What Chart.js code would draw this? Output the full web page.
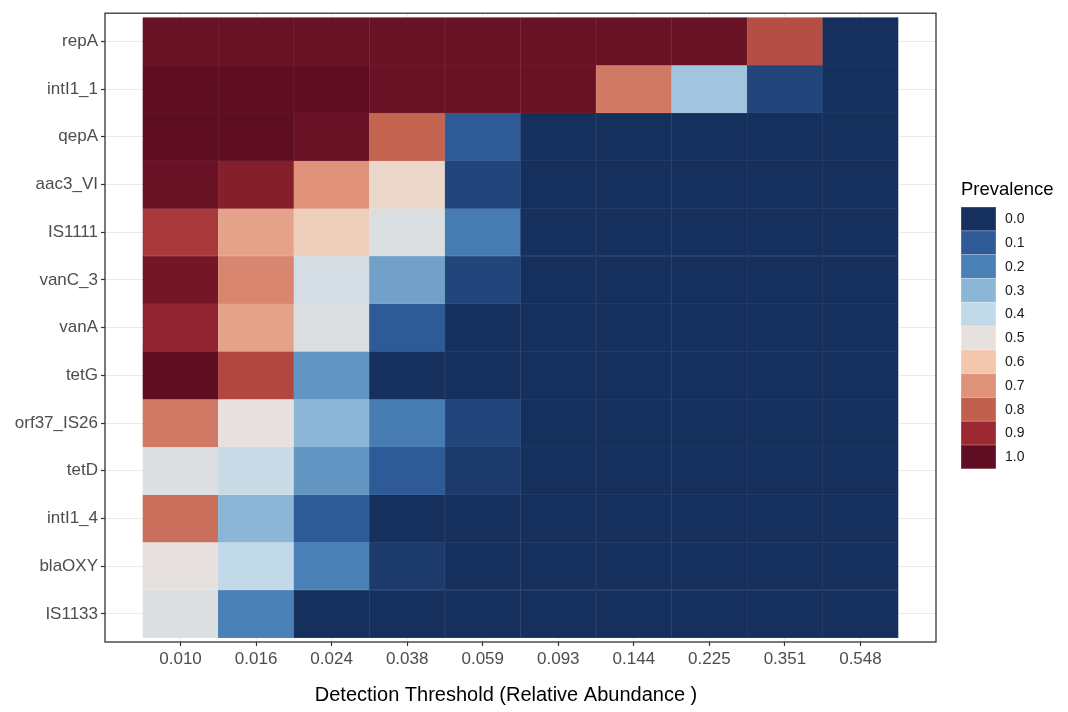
<!DOCTYPE html>
<html>
<head>
<meta charset="utf-8">
<script src="https://cdn.jsdelivr.net/npm/chart.js@4.4.1/dist/chart.umd.min.js"></script>
<style>
  html, body { margin: 0; padding: 0; background: #ffffff; }
  canvas { display: block; }
</style>
</head>
<body>
<canvas id="heat" width="1068" height="712"></canvas>
<script>
// Detection thresholds (relative abundance), one column each
const thresholds = ['0.010', '0.016', '0.024', '0.038', '0.059', '0.093', '0.144', '0.225', '0.351', '0.548'];

// Genes, top to bottom
const genes = ['repA', 'intI1_1', 'qepA', 'aac3_VI', 'IS1111', 'vanC_3', 'vanA', 'tetG', 'orf37_IS26', 'tetD', 'intI1_4', 'blaOXY', 'IS1133'];

// Prevalence of each gene at every threshold
const repA      = [0.98, 0.98, 0.98, 0.98, 0.98, 0.98, 0.98, 0.98, 0.83, 0.00];
const intI1_1   = [1.00, 1.00, 1.00, 0.98, 0.98, 0.98, 0.75, 0.34, 0.05, 0.00];
const qepA      = [1.00, 1.00, 0.98, 0.79, 0.10, 0.00, 0.00, 0.00, 0.00, 0.00];
const aac3_VI   = [0.98, 0.935, 0.70, 0.54, 0.05, 0.00, 0.00, 0.00, 0.00, 0.00];
const IS1111    = [0.87, 0.67, 0.57, 0.47, 0.19, 0.00, 0.00, 0.00, 0.00, 0.00];
const vanC_3    = [0.965, 0.725, 0.45, 0.26, 0.05, 0.00, 0.00, 0.00, 0.00, 0.00];
const vanA      = [0.92, 0.67, 0.47, 0.10, 0.00, 0.00, 0.00, 0.00, 0.00, 0.00];
const tetG      = [1.00, 0.845, 0.24, 0.00, 0.00, 0.00, 0.00, 0.00, 0.00, 0.00];
const orf37_IS26 = [0.75, 0.50, 0.30, 0.19, 0.05, 0.00, 0.00, 0.00, 0.00, 0.00];
const tetD      = [0.47, 0.42, 0.24, 0.10, 0.025, 0.00, 0.00, 0.00, 0.00, 0.00];
const intI1_4   = [0.77, 0.30, 0.10, 0.00, 0.00, 0.00, 0.00, 0.00, 0.00, 0.00];
const blaOXY    = [0.50, 0.40, 0.20, 0.025, 0.00, 0.00, 0.00, 0.00, 0.00, 0.00];
const IS1133    = [0.47, 0.20, 0.00, 0.00, 0.00, 0.00, 0.00, 0.00, 0.00, 0.00];

const prevalenceRows = [repA, intI1_1, qepA, aac3_VI, IS1111, vanC_3, vanA, tetG, orf37_IS26, tetD, intI1_4, blaOXY, IS1133];

// Legend breaks and the diverging palette anchored at them
const legendBreaks = [0.0, 0.1, 0.2, 0.3, 0.4, 0.5, 0.6, 0.7, 0.8, 0.9, 1.0];
const paletteStops = ['#16305e', '#2e5a97', '#4a80b6', '#8cb6d6', '#c2d9e9', '#e6e1de',
                      '#f2c7ae', '#e0927a', '#c0604d', '#9c2832', '#5e0d22'];

const FONT = '"Liberation Sans", Arial, Helvetica, sans-serif';
const X_TITLE = 'Detection Threshold (Relative Abundance )';

function hexToRgb(h) {
  const n = parseInt(h.slice(1), 16);
  return [(n >> 16) & 255, (n >> 8) & 255, n & 255];
}
const stopRgb = paletteStops.map(hexToRgb);

function rgbFor(v) {
  const t = Math.max(0, Math.min(1, v)) * (stopRgb.length - 1);
  const i = Math.min(Math.floor(t), stopRgb.length - 2);
  const f = t - i;
  const a = stopRgb[i], b = stopRgb[i + 1];
  return [0, 1, 2].map(k => a[k] + (b[k] - a[k]) * f);
}
function rgbString(c) {
  return 'rgb(' + c.map(x => Math.round(x)).join(',') + ')';
}
function colourFor(v) { return rgbString(rgbFor(v)); }
// slightly lighter tone used for the seams between tiles
function seamFor(v, amt) {
  return rgbString(rgbFor(v).map(x => x + (255 - x) * amt));
}

// One dataset per gene; each tile spans its gene's row on the value axis
const datasets = genes.map((gene, r) => ({
  label: gene,
  data: thresholds.map((t, c) => ({ x: c, y: [r, r + 1], v: prevalenceRows[r][c] })),
  backgroundColor: ctx => colourFor(ctx.raw.v),
  borderColor: ctx => seamFor(ctx.raw.v, 0.1),
  borderWidth: 0.5,
  borderSkipped: false,
  barPercentage: 1,
  categoryPercentage: 1,
  grouped: false
}));

const panelFrame = {
  id: 'panelFrame',
  afterDatasetsDraw(chart) {
    const { ctx, chartArea: a } = chart;
    ctx.save();
    ctx.strokeStyle = '#333333';
    ctx.lineWidth = 1.3;
    ctx.strokeRect(a.left, a.top, a.right - a.left, a.bottom - a.top);
    ctx.restore();
  }
};

// Axis title under the x axis
const xAxisTitle = {
  id: 'xAxisTitle',
  afterDraw(chart) {
    const { ctx } = chart;
    ctx.save();
    ctx.font = '20px ' + FONT;
    ctx.fillStyle = '#000000';
    ctx.textAlign = 'center';
    ctx.textBaseline = 'middle';
    ctx.fillText(X_TITLE, 506, 695);
    ctx.restore();
  }
};

const prevalenceLegend = {
  id: 'prevalenceLegend',
  afterDraw(chart) {
    const { ctx, chartArea: a } = chart;
    const x0 = a.right + 25;
    const y0 = 207;
    const keyW = 35, keyH = 23.8;
    ctx.save();
    ctx.textBaseline = 'middle';
    ctx.textAlign = 'left';
    ctx.fillStyle = '#000000';
    ctx.font = '18.5px ' + FONT;
    ctx.fillText('Prevalence', x0, 190);
    ctx.font = '14px ' + FONT;
    legendBreaks.forEach((b, k) => {
      const y = y0 + k * keyH;
      ctx.fillStyle = seamFor(b, 0.3);
      ctx.fillRect(x0, y, keyW, keyH);
      ctx.fillStyle = colourFor(b);
      ctx.fillRect(x0 + 0.5, y + 0.5, keyW - 1, keyH - 1);
      ctx.fillStyle = '#1a1a1a';
      ctx.fillText(b.toFixed(1), x0 + keyW + 9, y + keyH / 2 + 0.5);
    });
    ctx.restore();
  }
};

new Chart(document.getElementById('heat'), {
  type: 'bar',
  data: { datasets },
  plugins: [panelFrame, xAxisTitle, prevalenceLegend],
  options: {
    responsive: false,
    animation: false,
    devicePixelRatio: 1,
    layout: { padding: { top: 8, right: 132, left: 0, bottom: 0 } },
    plugins: { legend: { display: false }, tooltip: { enabled: false } },
    scales: {
      x: {
        type: 'linear',
        offset: false,
        min: -1,
        max: thresholds.length,
        afterBuildTicks: s => { s.ticks = thresholds.map((t, i) => ({ value: i })); },
        afterFit: s => { s.height = 70; },
        ticks: {
          autoSkip: false,
          maxRotation: 0,
          padding: 3,
          color: '#4d4d4d',
          font: { family: FONT, size: 17 },
          callback: v => thresholds[v]
        },
        grid: { color: '#ebebeb', lineWidth: 1, offset: false, tickLength: 4, tickColor: '#333333', tickWidth: 1.2 },
        border: { display: false }
      },
      y: {
        type: 'linear',
        reverse: true,
        min: -0.09,
        max: genes.length + 0.09,
        afterBuildTicks: s => { s.ticks = genes.map((g, i) => ({ value: i + 0.5 })); },
        afterFit: s => { s.width = 105; },
        ticks: {
          autoSkip: false,
          padding: 3,
          color: '#4d4d4d',
          font: { family: FONT, size: 17 },
          callback: v => genes[Math.floor(v)]
        },
        grid: { color: '#ebebeb', lineWidth: 1, tickLength: 4, tickColor: '#333333', tickWidth: 1.2 },
        border: { display: false }
      }
    }
  }
});
</script>
</body>
</html>
